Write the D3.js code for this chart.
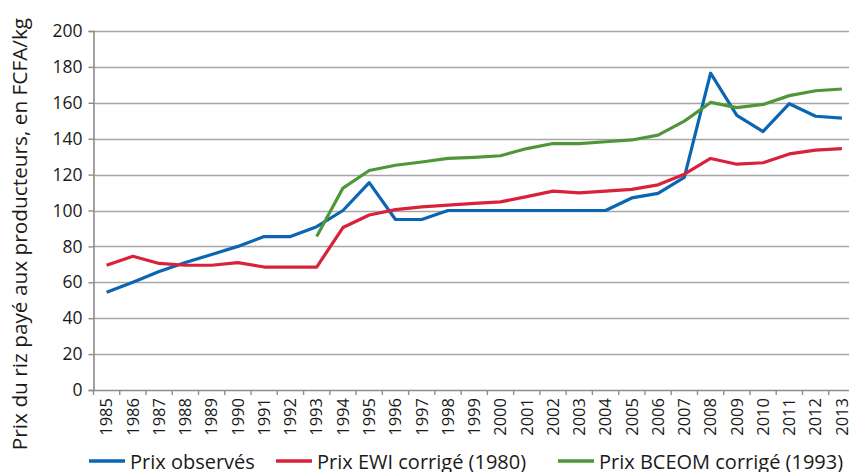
<!DOCTYPE html>
<html>
<head>
<meta charset="utf-8">
<script src="https://cdn.jsdelivr.net/npm/d3@7"></script>
<style>
  body { margin: 0; background: #fff; }
  svg { display: block; font-family: "Open Sans", "Noto Sans", sans-serif; }
</style>
</head>
<body>
<div id="viz"></div>
<script>
// Prix du riz payé aux producteurs, 1985-2013
var years = d3.range(1985, 2014).map(String);
var observed = [54.5, 60, 66, 71, 75.5, 80, 85.5, 85.5, 91, 100, 115.5, 95, 95, 100, 100, 100, 100, 100, 100, 100,
                107, 109.5, 118.5, 176.5, 153, 144, 159.5, 152.5, 151.5];
var ewi = [69.5, 74.5, 70.5, 69.5, 69.5, 71, 68.5, 68.5, 68.5, 90.5, 97.5, 100.5, 102, 103, 104, 104.8, 107.7, 110.8, 109.8, 110.8,
           111.8, 114.3, 120.2, 129, 125.8, 126.6, 131.5, 133.6, 134.5];
var bceom = [null, null, null, null, null, null, null, null, 85.5, 112.5, 122.3, 125.2, 127, 129, 129.6, 130.5, 134.5, 137.3, 137.3, 138.3,
             139.3, 142, 149.8, 160.2, 157.3, 159.1, 164, 166.7, 167.7];
var seriesNames = ["Prix observés", "Prix EWI corrigé (1980)", "Prix BCEOM corrigé (1993)"];
var seriesColors = ["#0a66b2", "#d9223a", "#4f9639"];
var yTicks = [0, 20, 40, 60, 80, 100, 120, 140, 160, 180, 200];

var W = 849, H = 472;
var plotLeft = 93.5, plotRight = 855, plotTop = 31, plotBottom = 390;

var svg = d3.select("#viz").append("svg").attr("width", W).attr("height", H);

var x = d3.scaleBand().domain(years).range([plotLeft, plotRight]);
var y = d3.scaleLinear().domain([0, 200]).range([plotBottom, plotTop]);

// grid
svg.append("g").selectAll("line").data(yTicks.slice(1)).enter().append("line")
  .attr("x1", plotLeft).attr("x2", W)
  .attr("y1", function(d) { return Math.round(y(d)) + 0.5; })
  .attr("y2", function(d) { return Math.round(y(d)) + 0.5; })
  .attr("stroke", "#a6a6a6").attr("stroke-width", 1.6);

// y axis
var yAxis = svg.append("g").attr("transform", "translate(" + plotLeft + ",0)")
  .call(d3.axisLeft(y).tickValues(yTicks).tickSize(5).tickPadding(6));
yAxis.select(".domain").attr("stroke", "#8c8c8c").attr("stroke-width", 1.6);
yAxis.selectAll(".tick line").attr("stroke", "#8c8c8c").attr("stroke-width", 1.4);
yAxis.selectAll("text").attr("font-size", 17.5).attr("fill", "#1a1a1a")
  .attr("font-family", "'Open Sans', 'Noto Sans', sans-serif");

// x axis
var xAxis = svg.append("g").attr("transform", "translate(0," + plotBottom + ")")
  .call(d3.axisBottom(x).tickSize(0).tickPadding(0));
xAxis.select(".domain").attr("stroke", "#8c8c8c").attr("stroke-width", 1.6);
xAxis.selectAll("text")
  .attr("font-size", 16.5).attr("fill", "#1a1a1a")
  .attr("font-family", "'Open Sans', 'Noto Sans', sans-serif")
  .attr("transform", "rotate(-90)")
  .attr("text-anchor", "end").attr("dy", "0.35em").attr("x", -8).attr("y", 0);
// category boundary ticks
svg.append("g").selectAll("line").data(years.concat(["end"])).enter().append("line")
  .attr("x1", function(d, i) { return plotLeft + i * x.step(); })
  .attr("x2", function(d, i) { return plotLeft + i * x.step(); })
  .attr("y1", plotBottom).attr("y2", plotBottom + 5)
  .attr("stroke", "#8c8c8c").attr("stroke-width", 1.4);

// lines
var allSeries = [observed, ewi, bceom];
var line = d3.line()
  .defined(function(d) { return d != null; })
  .x(function(d, i) { return x(years[i]) + x.bandwidth() / 2; })
  .y(function(d) { return y(d); });

allSeries.forEach(function(s, k) {
  svg.append("path").datum(s)
    .attr("d", line)
    .attr("fill", "none")
    .attr("stroke", seriesColors[k])
    .attr("stroke-width", 3.2)
    .attr("stroke-linejoin", "round");
});

// y axis title
svg.append("text")
  .attr("transform", "translate(27,234) rotate(-90)")
  .attr("text-anchor", "middle")
  .attr("font-size", 20.8).attr("fill", "#1a1a1a")
  .text("Prix du riz payé aux producteurs, en FCFA/kg");

// legend
var legendX = [89, 276, 558];
var legend = svg.append("g");
seriesNames.forEach(function(name, k) {
  legend.append("line")
    .attr("x1", legendX[k]).attr("x2", legendX[k] + 36)
    .attr("y1", 461).attr("y2", 461)
    .attr("stroke", seriesColors[k]).attr("stroke-width", 3.5);
  legend.append("text")
    .attr("x", legendX[k] + 41).attr("y", 469)
    .attr("font-size", 20).attr("fill", "#1a1a1a")
    .text(name);
});
</script>
</body>
</html>
